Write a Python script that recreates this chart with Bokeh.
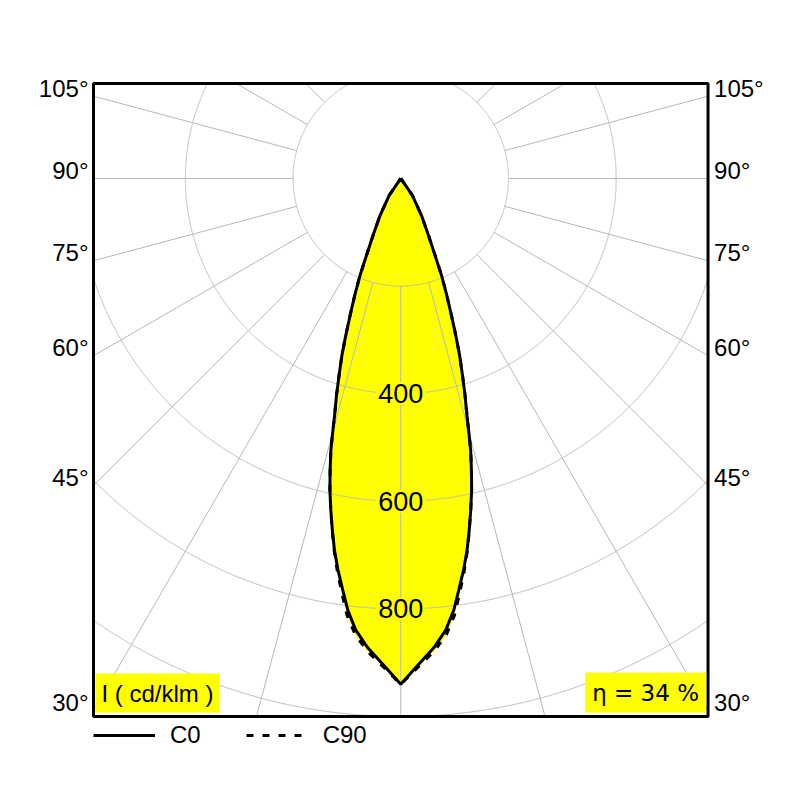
import numpy as np
from bokeh.plotting import figure
from bokeh.models import Range1d, Label, Legend, LegendItem
from bokeh.embed import file_html
from bokeh.resources import INLINE

# ---- data ----
gamma = [0, 2.2, 4.1, 5.7, 7.0, 8.0, 9.1, 10.1, 11.0, 11.9, 12.8, 13.6, 14.4, 14.9, 15.6,
         16.5, 17.4, 18.4, 19.3, 20.3, 21.5, 22.8, 24.0, 25.9, 29.2, 34.5, 40.0]
c0 = [940, 902, 873, 843, 808, 773, 737, 702, 666, 630, 594, 558, 522, 494, 457,
      420, 383, 346, 309, 271, 233, 195, 157, 118, 79, 38, 0]
c90 = [940, 906, 880, 852, 818, 781, 742, 704, 667, 630, 594, 558, 522, 494, 457,
       420, 383, 346, 309, 271, 233, 195, 157, 118, 79, 38, 0]
ring_values = [200, 400, 600, 800, 1000, 1200]
ring_label_values = [400, 600, 800]
angle_ticks = [30, 45, 60, 75, 90, 105]
radial_angles = list(range(0, 360, 15))
unit_label = "I ( cd/klm )"
eta_label = "η = 34 %"
series_names = ["C0", "C90"]

# diagram box (cd/klm units) and canvas geometry
XMAX = 570.6
YMIN, YMAX = -1000.0, 176.6
PX = 0.5385           # pixels per cd/klm
W, H = 790, 790
BOX_L, BOX_T, BOX_B = 93, 83, 716   # canvas pixels of the box edges
GRID = "#b8b8b8"
YELLOW = "#ffff00"
FONT = "Liberation Sans"

x_lo = -XMAX - BOX_L / PX
x_hi = XMAX + (W - BOX_L - 2 * XMAX * PX) / PX
y_hi = YMAX + BOX_T / PX
y_lo = YMIN - (H - BOX_B) / PX

p = figure(width=W, height=H, x_range=Range1d(x_lo, x_hi), y_range=Range1d(y_lo, y_hi),
           x_axis_type=None, y_axis_type=None, toolbar_location=None, output_backend="svg",
           min_border=0)
p.grid.visible = False
p.outline_line_color = None
p.background_fill_color = "white"
p.border_fill_color = "white"


def outline(vals):
    g = np.radians(gamma)
    v = np.array(vals, dtype=float)
    xr = v * np.sin(g)
    yr = -v * np.cos(g)
    x = np.concatenate([xr[::-1], -xr[1:]])
    y = np.concatenate([yr[::-1], yr[1:]])
    return x, y


def inside(x, y):
    return (x >= -XMAX) & (x <= XMAX) & (y >= YMIN) & (y <= YMAX)

x0, y0 = outline(c0)
x90, y90 = outline(c90)

# yellow fill
p.patch(x90, y90, fill_color=YELLOW, line_color=None)
p.patch(x0, y0, fill_color=YELLOW, line_color=None)

# polar grid: rings clipped to the box
t = np.linspace(0, 2 * np.pi, 4000)
for r in ring_values:
    rx = r * np.sin(t)
    ry = -r * np.cos(t)
    m = inside(rx, ry)
    rx = np.where(m, rx, np.nan)
    ry = np.where(m, ry, np.nan)
    p.line(rx, ry, line_color=GRID, line_width=1)

# radial lines from first ring to the box edge
xs0, ys0, xs1, ys1 = [], [], [], []
for a in radial_angles:
    th = np.radians(a)
    dx, dy = np.sin(th), -np.cos(th)
    cands = []
    if abs(dx) > 1e-9:
        cands.append(XMAX / abs(dx))
    if dy < -1e-9:
        cands.append(YMIN / dy)
    elif dy > 1e-9:
        cands.append(YMAX / dy)
    tmax = min(cands)
    r_in = ring_values[0]
    if tmax > r_in:
        xs0.append(r_in * dx); ys0.append(r_in * dy)
        xs1.append(tmax * dx); ys1.append(tmax * dy)
p.segment(x0=xs0, y0=ys0, x1=xs1, y1=ys1, line_color=GRID, line_width=1)

# curves
l0 = p.line(x0, y0, line_color="black", line_width=3)
l90 = p.line(x90, y90, line_color="black", line_width=3, line_dash="7 9")

# box frame
p.quad(left=[-XMAX], right=[XMAX], bottom=[YMIN], top=[YMAX], fill_color=None,
       line_color="black", line_width=3)

# ring value labels
for v in ring_label_values:
    p.add_layout(Label(x=0, y=-v, text=str(v), text_align="center", text_baseline="middle",
                       text_font=FONT, text_font_size="27px", text_color="black",
                       background_fill_color=YELLOW, padding=2))

# angle labels at box edges
for a in angle_ticks:
    yv = -XMAX / np.tan(np.radians(a))
    p.add_layout(Label(x=-XMAX, y=yv, text=f"{a}°", text_align="right", text_baseline="middle",
                       x_offset=-5, y_offset=8, text_font=FONT, text_font_size="24px",
                       text_color="black"))
    p.add_layout(Label(x=XMAX, y=yv, text=f"{a}°", text_align="left", text_baseline="middle",
                       x_offset=6, y_offset=8, text_font=FONT, text_font_size="24px",
                       text_color="black"))

# corner boxes
p.add_layout(Label(x=-XMAX, y=YMIN, text=unit_label, text_align="left", text_baseline="bottom",
                   x_offset=2, y_offset=4, text_font=FONT, text_font_size="24px", text_color="black",
                   background_fill_color=YELLOW, padding=6))
p.add_layout(Label(x=XMAX, y=YMIN, text=eta_label, text_align="right", text_baseline="bottom",
                   x_offset=-2, y_offset=4, text_font="DejaVu Sans", text_font_size="23px",
                   text_color="black", background_fill_color=YELLOW, padding=7))

legend = Legend(items=[LegendItem(label=series_names[0], renderers=[l0]),
                       LegendItem(label=series_names[1], renderers=[l90])],
                orientation="horizontal", location=(BOX_L, H - BOX_B - 38),
                glyph_width=62, glyph_height=38, label_height=38, label_standoff=15, spacing=45,
                padding=0, margin=0, border_line_color=None, background_fill_alpha=0,
                label_text_font=FONT, label_text_font_size="24px", label_text_color="black")
p.add_layout(legend)

open("out.html", "w").write(file_html(p, INLINE))
